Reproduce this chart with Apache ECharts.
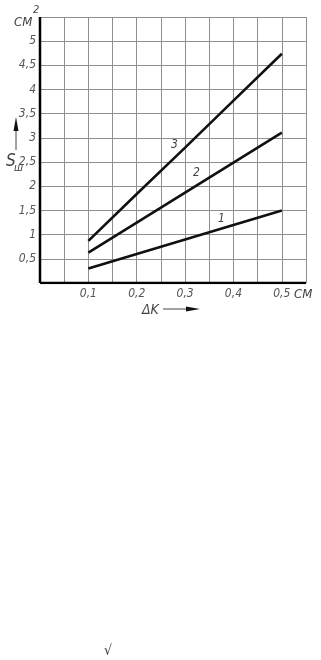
<!DOCTYPE html>
<html><head><meta charset="utf-8">
<script src="https://cdn.jsdelivr.net/npm/echarts@6/dist/echarts.min.js"></script>
<style>html,body{margin:0;padding:0;background:#fff}#c{width:321px;height:660px}</style>
</head><body><div id="c"></div>
<script>
var xValues = [0.1, 0.2, 0.3, 0.4, 0.5];
var curve1 = [0.30, 0.60, 0.90, 1.20, 1.50];
var curve2 = [0.63, 1.25, 1.87, 2.49, 3.11];
var curve3 = [0.87, 1.84, 2.80, 3.77, 4.74];
var xTickLabels = ['0,1', '0,2', '0,3', '0,4', '0,5'];
var yTickLabels = ['0,5', '1', '1,5', '2', '2,5', '3', '3,5', '4', '4,5', '5'];
var curveNames = ['1', '2', '3'];

var FONT = "'Liberation Sans Narrow','DejaVu Sans Condensed',sans-serif";
var chart = echarts.init(document.getElementById('c'), null, {renderer: 'canvas'});
function pairs(ys) { return xValues.map(function (x, i) { return [x, ys[i]]; }); }
function lineSeries(name, ys) {
  return {name: name, type: 'line', data: pairs(ys), symbol: 'none', smooth: false,
    lineStyle: {color: '#111', width: 2.6}, z: 5};
}
var txt = {fontFamily: FONT, fontStyle: 'italic', fill: '#444', fontSize: 12};
chart.setOption({
  animation: false,
  grid: {left: 40, top: 17, width: 266, height: 266},
  xAxis: {type: 'value', min: 0, max: 0.55, interval: 0.05,
    axisLine: {show: false}, axisTick: {show: false},
    splitLine: {show: true, lineStyle: {color: '#8f8f8f', width: 1}},
    axisLabel: {margin: 5, color: '#555', fontSize: 12, fontStyle: 'italic', fontFamily: FONT,
      formatter: function (v) { var k = Math.round(v * 100); if (k % 10 === 0 && k >= 10 && k <= 50) return xTickLabels[k / 10 - 1]; return ''; }}},
  yAxis: {type: 'value', min: 0, max: 5.5, interval: 0.5,
    axisLine: {show: false}, axisTick: {show: false},
    splitLine: {show: true, lineStyle: {color: '#8f8f8f', width: 1}},
    axisLabel: {margin: 4, color: '#555', fontSize: 12, fontStyle: 'italic', fontFamily: FONT,
      formatter: function (v) { var k = Math.round(v * 2); if (k >= 1 && k <= 10) return yTickLabels[k - 1]; return ''; }}},
  series: [lineSeries(curveNames[0], curve1), lineSeries(curveNames[1], curve2), lineSeries(curveNames[2], curve3),
    {type: 'line', data: [[0, 0], [0, 5.5]], symbol: 'none', lineStyle: {color: '#000', width: 2.5}, z: 6},
    {type: 'line', data: [[0, 0], [0.55, 0]], symbol: 'none', lineStyle: {color: '#000', width: 2.5}, z: 6}
  ],
  graphic: [
    {type: 'text', left: 14, top: 16, style: Object.assign({}, txt, {text: 'СМ', fontSize: 13})},
    {type: 'text', left: 33, top: 5, style: Object.assign({}, txt, {text: '2', fontSize: 11})},
    {type: 'text', left: 294, top: 288, style: Object.assign({}, txt, {text: 'СМ', fontSize: 13})},
    {type: 'text', left: 142, top: 303, style: Object.assign({}, txt, {text: 'ΔK', fontSize: 14})},
    {type: 'line', shape: {x1: 163, y1: 309, x2: 190, y2: 309}, style: {stroke: '#444', lineWidth: 1}},
    {type: 'polygon', shape: {points: [[186, 306.5], [200, 309], [186, 311.5]]}, style: {fill: '#111'}},
    {type: 'text', left: 6, top: 153, style: Object.assign({}, txt, {text: 'S', fontSize: 17})},
    {type: 'text', left: 14, top: 163, style: Object.assign({}, txt, {text: 'ш', fontSize: 11})},
    {type: 'line', shape: {x1: 16, y1: 150, x2: 16, y2: 127}, style: {stroke: '#444', lineWidth: 1}},
    {type: 'polygon', shape: {points: [[13.5, 131], [16, 117], [18.5, 131]]}, style: {fill: '#111'}},
    {type: 'text', left: 171, top: 139, style: Object.assign({}, txt, {text: curveNames[2]})},
    {type: 'text', left: 193, top: 167, style: Object.assign({}, txt, {text: curveNames[1]})},
    {type: 'text', left: 218, top: 213, style: Object.assign({}, txt, {text: curveNames[0]})},
    {type: 'text', left: 104, top: 644, style: Object.assign({}, txt, {text: '√', fontSize: 14, fill: '#333', fontStyle: 'normal'})}
  ]
});
</script></body></html>
